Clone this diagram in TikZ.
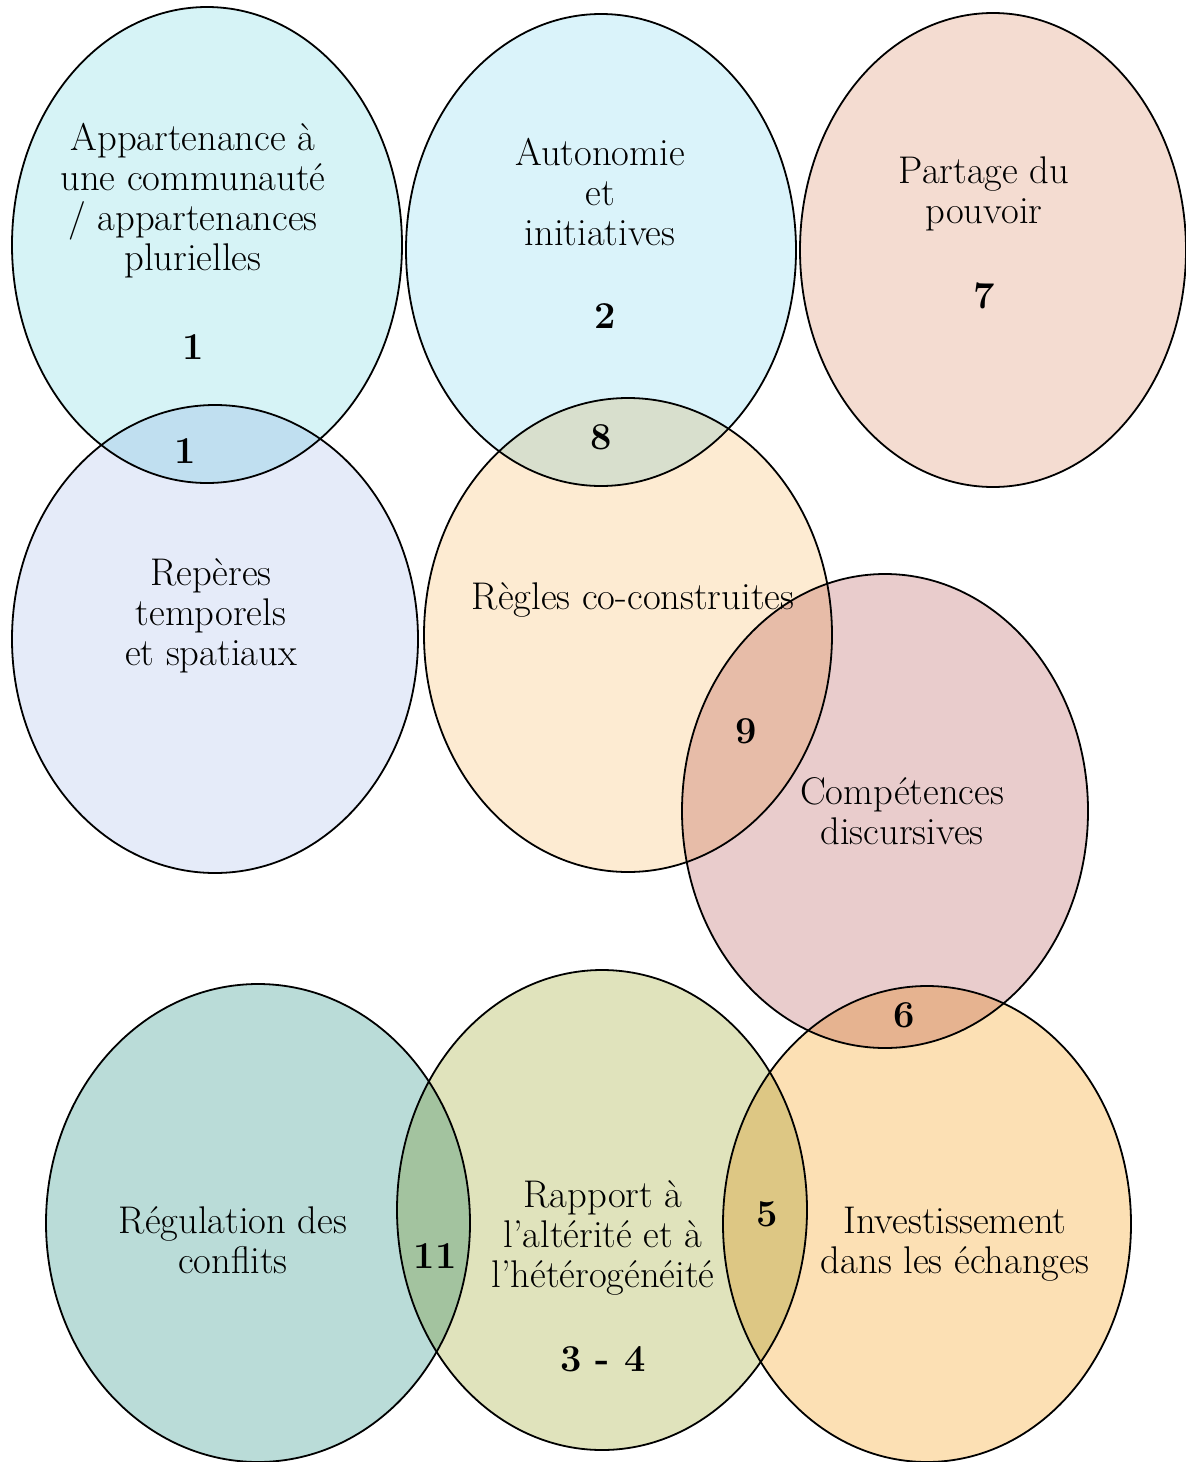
\documentclass[tikz,border=0pt]{standalone}
\usepackage{fontspec}
\usetikzlibrary{shapes.geometric}
\definecolor{cAppart}{RGB}{214,243,246}
\definecolor{cAuto}{RGB}{218,243,250}
\definecolor{cPartage}{RGB}{244,220,209}
\definecolor{cReperes}{RGB}{229,235,249}
\definecolor{cRegles}{RGB}{253,235,210}
\definecolor{cCompet}{RGB}{233,204,204}
\definecolor{cRegul}{RGB}{186,220,216}
\definecolor{cRapport}{RGB}{224,227,188}
\definecolor{cInvest}{RGB}{252,224,180}
\tikzset{
	bulle/.style={ellipse, draw=black, line width=0.9pt, inner sep=0pt, blend mode=multiply},
	etiq/.style={align=center, font=\fontsize{19.3}{20}\selectfont},
	chiffre/.style={font=\fontsize{19}{20}\selectfont\bfseries}
}

\begin{document}
\begin{tikzpicture}[x=0.5pt,y=-0.5pt]
	\useasboundingbox (0,0) rectangle (1186,1462);
	% les bulles
	\node[bulle, fill=cAppart, minimum width=195pt, minimum height=238pt] (appart) at (207,245) {};
	\node[bulle, fill=cAuto, minimum width=195pt, minimum height=236pt] (auto) at (601,250) {};
	\node[bulle, fill=cPartage, minimum width=193pt, minimum height=237pt] (partage) at (993,250) {};
	\node[bulle, fill=cReperes, minimum width=203pt, minimum height=234pt] (reperes) at (215,639) {};
	\node[bulle, fill=cRegles, minimum width=204pt, minimum height=237pt] (regles) at (628,635) {};
	\node[bulle, fill=cCompet, minimum width=203pt, minimum height=237pt] (compet) at (885,811) {};
	\node[bulle, fill=cRegul, minimum width=212pt, minimum height=239pt] (regul) at (258,1223) {};
	\node[bulle, fill=cRapport, minimum width=205pt, minimum height=240pt] (rapport) at (602,1210) {};
	\node[bulle, fill=cInvest, minimum width=204pt, minimum height=238pt] (invest) at (927,1224) {};
	% les textes
	\node[etiq] (t-appart) at (193,201) {Appartenance à\\une communauté\\/ appartenances\\plurielles};
	\node[etiq] (t-auto) at (600,192) {Autonomie\\et\\initiatives};
	\node[etiq] (t-partage) at (984,194) {Partage du\\pouvoir};
	\node[etiq] (t-reperes) at (211,616) {Repères\\temporels\\et spatiaux};
	\node[etiq] (t-regles) at (633,600) {Règles co-construites};
	\node[etiq] (t-compet) at (902,811) {Compétences\\discursives};
	\node[etiq] (t-regul) at (233,1240) {Régulation des\\conflits};
	\node[etiq] (t-rapport) at (603,1238) {Rapport à\\l’altérité et à\\l’hétérogénéité};
	\node[etiq] (t-invest) at (955,1244) {Investissement\\dans les échanges};
	% les chiffres
	\node[chiffre] (n-appart) at (193,347) {1};
	\node[chiffre] (n-reperes) at (185,451) {1};
	\node[chiffre] (n-auto) at (605,316) {2};
	\node[chiffre] (n-huit) at (601,437) {8};
	\node[chiffre] (n-partage) at (984,296) {7};
	\node[chiffre] (n-neuf) at (746,731) {9};
	\node[chiffre] (n-six) at (904,1015) {6};
	\node[chiffre] (n-onze) at (435,1256) {11};
	\node[chiffre] (n-rapport) at (603,1359) {3 - 4};
	\node[chiffre] (n-cinq) at (767,1214) {5};
\end{tikzpicture}
\end{document}
